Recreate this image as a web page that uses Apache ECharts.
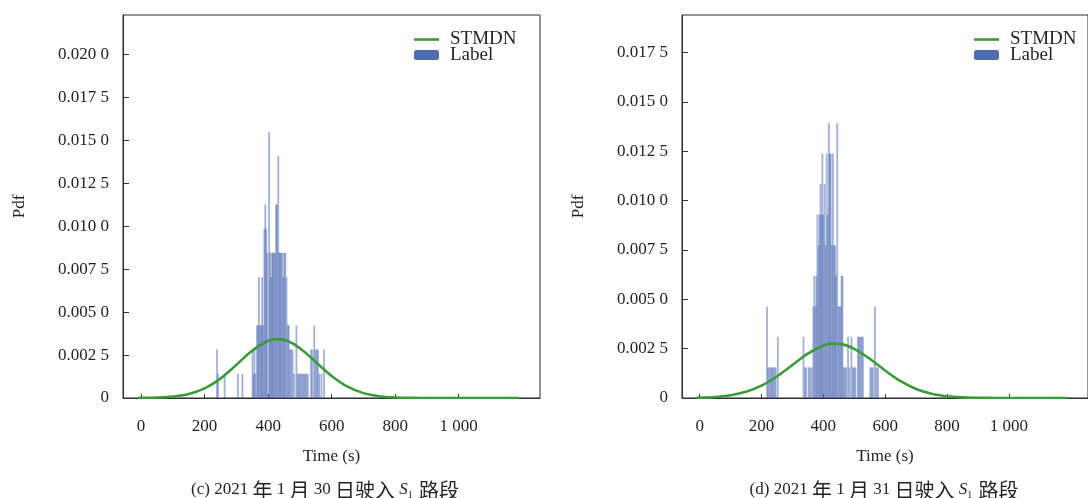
<!DOCTYPE html>
<html>
<head>
<meta charset="utf-8">
<script src="https://cdn.jsdelivr.net/npm/echarts@6/dist/echarts.min.js"></script>
<style>
  html, body { margin: 0; padding: 0; background: #fff; }
  #chart { width: 1088px; height: 498px; }
</style>
</head>
<body>
<div id="chart"></div>
<script>
// 刻度
var timeTicks = [0, 200, 400, 600, 800, 1000];
var pdfTicksC = [0, 0.0025, 0.005, 0.0075, 0.01, 0.0125, 0.015, 0.0175, 0.02];
var pdfTicksD = [0, 0.0025, 0.005, 0.0075, 0.01, 0.0125, 0.015, 0.0175];

// STMDN 预测曲线
var curveTime = [-10, 0, 50, 100, 150, 200, 250, 300, 350, 400, 430, 460, 500, 550, 600, 650, 700, 750, 800, 850, 900, 950, 1000, 1050, 1100, 1150, 1190];
var curvePdfC = [0.000004, 0.000006, 0.000025, 0.000083, 0.000236, 0.000564, 0.00113, 0.00193, 0.00276, 0.00333, 0.00343, 0.00333, 0.0029, 0.0021, 0.00128, 0.000657, 0.000284, 0.000104, 0.000032, 0.000008, 0.000002, 0, 0, 0, 0, 0, 0];
var curvePdfD = [0.000014, 0.000016, 0.000053, 0.000137, 0.000313, 0.000624, 0.00109, 0.00167, 0.00225, 0.00266, 0.00276, 0.00273, 0.00249, 0.00199, 0.00139, 0.00085, 0.000455, 0.000214, 0.0000886, 0.000032, 0.00001, 0.000003, 0, 0, 0, 0, 0];

// Label 直方图 (c) 1月30日
var labelTimeC = [239, 242, 263, 305, 319, 351, 354, 357, 360, 365, 368, 371, 375, 378, 381, 384, 388, 391, 394, 397, 403, 406, 409, 412, 415, 418, 421, 425, 428, 432, 435, 438, 441, 445, 448, 451, 454, 458, 462, 465, 469, 473, 477, 482, 489, 493, 497, 501, 505, 509, 513, 517, 521, 525, 535, 539, 545, 549, 553, 557, 561, 568, 576];
var labelPdfC = [0.00282, 0.00141, 0.00141, 0.00141, 0.00141, 0.00282, 0.00141, 0.00282, 0.00141, 0.00423, 0.00423, 0.00704, 0.00423, 0.00423, 0.00704, 0.00423, 0.00986, 0.01127, 0.00986, 0.00845, 0.01549, 0.00845, 0.00704, 0.00845, 0.00845, 0.00845, 0.00845, 0.01127, 0.01127, 0.01408, 0.00845, 0.00845, 0.00845, 0.00845, 0.00704, 0.00845, 0.00845, 0.00704, 0.00423, 0.00423, 0.00282, 0.00282, 0.00282, 0.00141, 0.00423, 0.00141, 0.00141, 0.00141, 0.00141, 0.00141, 0.00141, 0.00141, 0.00141, 0.00141, 0.00282, 0.00282, 0.00423, 0.00282, 0.00282, 0.00282, 0.00141, 0.00141, 0.00282];

// Label 直方图 (d) 1月31日
var labelTimeD = [218, 222, 226, 230, 234, 238, 242, 246, 253, 336, 341, 345, 353, 357, 363, 368, 371, 375, 378, 381, 385, 388, 391, 394, 397, 400, 404, 407, 411, 414, 418, 421, 424, 428, 431, 435, 438, 441, 445, 449, 452, 456, 459, 462, 466, 470, 474, 480, 485, 491, 496, 500, 504, 512, 516, 520, 524, 528, 552, 556, 560, 567, 572, 577];
var labelPdfD = [0.00464, 0.00155, 0.00155, 0.00155, 0.00155, 0.00155, 0.00155, 0.00155, 0.0031, 0.0031, 0.00155, 0.00155, 0.00155, 0.00155, 0.00155, 0.00464, 0.00619, 0.00464, 0.00619, 0.00929, 0.00774, 0.00929, 0.01084, 0.00929, 0.01238, 0.00929, 0.01084, 0.00774, 0.01238, 0.00929, 0.01393, 0.01238, 0.01238, 0.00774, 0.01238, 0.00774, 0.00774, 0.00619, 0.01393, 0.00464, 0.00464, 0.00464, 0.00619, 0.00619, 0.00155, 0.00155, 0.00155, 0.0031, 0.00155, 0.0031, 0.00155, 0.00155, 0.00155, 0.0031, 0.0031, 0.0031, 0.0031, 0.0031, 0.00155, 0.00155, 0.00155, 0.00464, 0.00155, 0.00155];

var FONT = '"Liberation Serif", "Noto Sans CJK SC", serif';
var CJK = '"Noto Sans CJK SC", serif';
var TXT = '#231f20';
var GREEN = '#3b9a3b';

function pairs(xs, ys) {
    var out = [];
    for (var i = 0; i < xs.length; i++) out.push([xs[i], ys[i]]);
    return out;
}

// 0.0200 -> "0.020 0"
function fmtPdf(v) {
    if (v === 0) return '0';
    var s = v.toFixed(4);
    return s.slice(0, 5) + ' ' + s.slice(5);
}
function fmtTime(v) {
    return v >= 1000 ? '1 000' : String(v);
}

function xAxisOpt(gi) {
    return {
        gridIndex: gi, type: 'value', min: -57, max: 1256,
        name: 'Time (s)', nameLocation: 'middle', nameGap: 50,
        nameTextStyle: { fontFamily: FONT, fontSize: 17, color: TXT },
        axisLine: { show: true, onZero: false, lineStyle: { color: '#2b2b2b' } },
        splitLine: { show: false },
        axisTick: { inside: true, length: 4, lineStyle: { color: '#333' }, customValues: timeTicks },
        axisLabel: { margin: 20, fontFamily: FONT, fontSize: 17, color: TXT, formatter: fmtTime, customValues: timeTicks }
    };
}
function yAxisOpt(gi, max, ticks) {
    return {
        gridIndex: gi, type: 'value', min: 0, max: max,
        name: 'Pdf', nameLocation: 'middle', nameGap: 95,
        nameTextStyle: { fontFamily: FONT, fontSize: 17, color: TXT },
        axisLine: { show: true, onZero: false, lineStyle: { color: '#2b2b2b' } },
        splitLine: { show: false },
        axisTick: { inside: true, length: 6, lineStyle: { color: '#333' }, customValues: ticks },
        axisLabel: { margin: 14, fontFamily: FONT, fontSize: 17, color: TXT, formatter: fmtPdf, customValues: ticks }
    };
}
function legendOpt(left) {
    return {
        orient: 'vertical', left: left, top: 25,
        itemWidth: 25, itemHeight: 10, itemGap: -3.5,
        textStyle: { fontFamily: FONT, fontSize: 19, color: TXT, padding: [0, 0, 0, 6] },
        data: [
            { name: 'STMDN', icon: 'path://M0,0 L25,0 L25,2.6 L0,2.6 Z', itemStyle: { color: GREEN } },
            { name: 'Label', itemStyle: { color: '#4f6cb1', opacity: 1 } }
        ]
    };
}
function captionOpt(text, left) {
    return {
        text: text, left: left, top: 475, textAlign: 'center',
        textStyle: {
            fontFamily: FONT, fontSize: 17, fontWeight: 'normal', color: TXT,
            rich: {
                c: { fontFamily: CJK, fontSize: 20, color: TXT, verticalAlign: 'middle' },
                i: { fontFamily: FONT, fontSize: 17, fontStyle: 'italic', color: TXT, verticalAlign: 'middle' },
                s: { fontFamily: FONT, fontSize: 10, color: TXT, verticalAlign: 'bottom', padding: [0, 2, 0, 0] }
            }
        }
    };
}
function barSeries(i, xs, ys) {
    return {
        name: 'Label', type: 'bar', xAxisIndex: i, yAxisIndex: i,
        barWidth: 1.8, z: 2,
        itemStyle: { color: 'rgba(70,100,176,0.5)' },
        data: pairs(xs, ys)
    };
}
function lineSeries(i, ys) {
    return {
        name: 'STMDN', type: 'line', xAxisIndex: i, yAxisIndex: i,
        smooth: 0.35, showSymbol: false, symbol: 'none', z: 3,
        lineStyle: { color: GREEN, width: 2.6 },
        itemStyle: { color: GREEN },
        data: pairs(curveTime, ys)
    };
}

var myChart = echarts.init(document.getElementById('chart'));
myChart.setOption({
    animation: false,
    backgroundColor: '#fff',
    title: [
        captionOpt('(c) 2021 {c|年} 1 {c|月} 30 {c|日驶入} {i|S}{s|1} {c|路段}', 320),
        captionOpt('(d) 2021 {c|年} 1 {c|月} 31 {c|日驶入} {i|S}{s|1} {c|路段}', 879)
    ],
    legend: [legendOpt(409), legendOpt(969)],
    grid: [
        { left: 123, top: 15, width: 417, height: 383, show: true, borderColor: '#2b2b2b', borderWidth: 1 },
        { left: 682, top: 15, width: 417, height: 383, show: true, borderColor: '#2b2b2b', borderWidth: 1 }
    ],
    xAxis: [xAxisOpt(0), xAxisOpt(1)],
    yAxis: [yAxisOpt(0, 0.0223, pdfTicksC), yAxisOpt(1, 0.0194, pdfTicksD)],
    series: [
        barSeries(0, labelTimeC, labelPdfC),
        lineSeries(0, curvePdfC),
        barSeries(1, labelTimeD, labelPdfD),
        lineSeries(1, curvePdfD)
    ]
});
</script>
</body>
</html>
